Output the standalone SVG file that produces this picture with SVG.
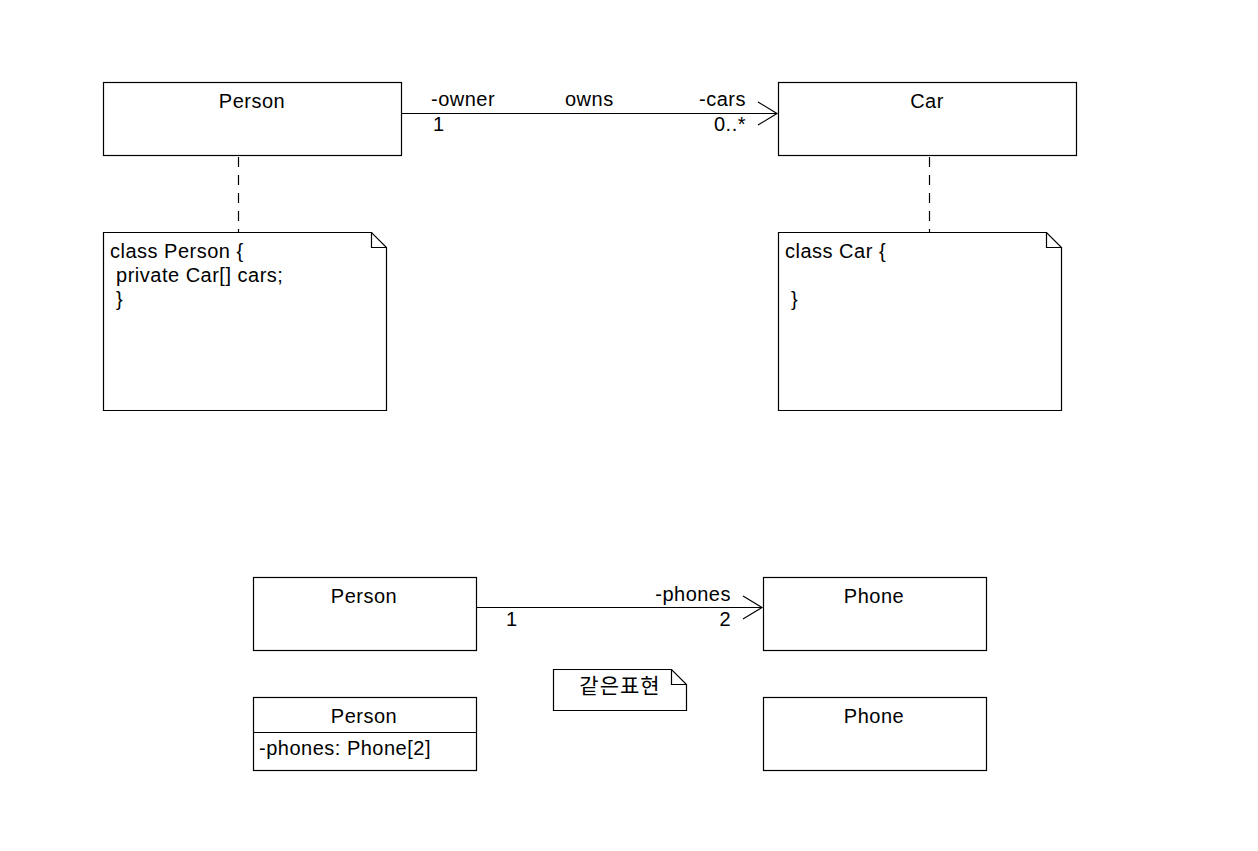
<svg xmlns="http://www.w3.org/2000/svg" width="1258" height="851" viewBox="0 0 1258 851">
<style>
.box{fill:#fff;stroke:#000;stroke-width:1.2}
.t{font-family:"Liberation Sans",Arial,sans-serif;font-size:20px;letter-spacing:0.5px;fill:#000}
.c{text-anchor:middle}
.e{text-anchor:end}
.ln{stroke:#000;stroke-width:1.2;fill:none}
.dash{stroke:#000;stroke-width:1.2;stroke-dasharray:10,8;fill:none}
</style>
<rect width="1258" height="851" fill="#fff"/>
<g id="person1"><rect class="box" x="103.5" y="82.5" width="298" height="73"/><text class="t c" x="252" y="108">Person</text></g>
<g id="car"><rect class="box" x="778.5" y="82.5" width="298" height="73"/><text class="t c" x="927" y="108">Car</text></g>
<g id="notePerson"><path class="box" d="M103.5,232.5 H371.5 L386.5,247.5 V410.5 H103.5 Z"/><path class="ln" d="M371.5,232.5 V247.5 H386.5"/>
<text class="t" x="110" y="258">class Person {</text><text class="t" x="110" y="282" xml:space="preserve"> private Car[] cars;</text><text class="t" x="110" y="306" xml:space="preserve"> }</text></g>
<g id="noteCar"><path class="box" d="M778.5,232.5 H1046.5 L1061.5,247.5 V410.5 H778.5 Z"/><path class="ln" d="M1046.5,232.5 V247.5 H1061.5"/>
<text class="t" x="785" y="258">class Car {</text><text class="t" x="785" y="306" xml:space="preserve"> }</text></g>
<g id="person2"><rect class="box" x="253.5" y="577.5" width="223" height="73"/><text class="t c" x="364" y="603">Person</text></g>
<g id="phone1"><rect class="box" x="763.5" y="577.5" width="223" height="73"/><text class="t c" x="874" y="603">Phone</text></g>
<g id="noteSame"><path class="box" d="M553.5,669.5 H671.5 L686.5,684.5 V710.5 H553.5 Z"/><path class="ln" d="M671.5,669.5 V684.5 H686.5"/>
<text x="620" y="693" text-anchor="middle" style="font-family:'Liberation Sans','Noto Sans CJK KR',sans-serif;font-size:21px;letter-spacing:1px">같은표현</text></g>
<g id="person3"><rect class="box" x="253.5" y="697.5" width="223" height="73"/><line class="ln" x1="253.5" y1="732.5" x2="476.5" y2="732.5"/><text class="t c" x="364" y="723">Person</text><text class="t" x="259" y="755">-phones: Phone[2]</text></g>
<g id="phone2"><rect class="box" x="763.5" y="697.5" width="223" height="73"/><text class="t c" x="874" y="723">Phone</text></g>
<g id="connectors">
<line class="ln" x1="402" y1="113.5" x2="777" y2="113.5"/><path class="ln" d="M758,102 L777,113.5 L758,125"/>
<text class="t" x="431" y="106">-owner</text><text class="t" x="565" y="106">owns</text><text class="t e" x="746" y="106">-cars</text>
<text class="t" x="433" y="131">1</text><text class="t e" x="746" y="131">0..*</text>
<line class="dash" x1="238.5" y1="157" x2="238.5" y2="232"/>
<line class="dash" x1="929.5" y1="157" x2="929.5" y2="232"/>
<line class="ln" x1="477" y1="607.5" x2="762" y2="607.5"/><path class="ln" d="M743,596 L762,607.5 L743,619"/>
<text class="t e" x="731" y="601">-phones</text><text class="t" x="506" y="626">1</text><text class="t e" x="731" y="626">2</text>
</g>
</svg>
